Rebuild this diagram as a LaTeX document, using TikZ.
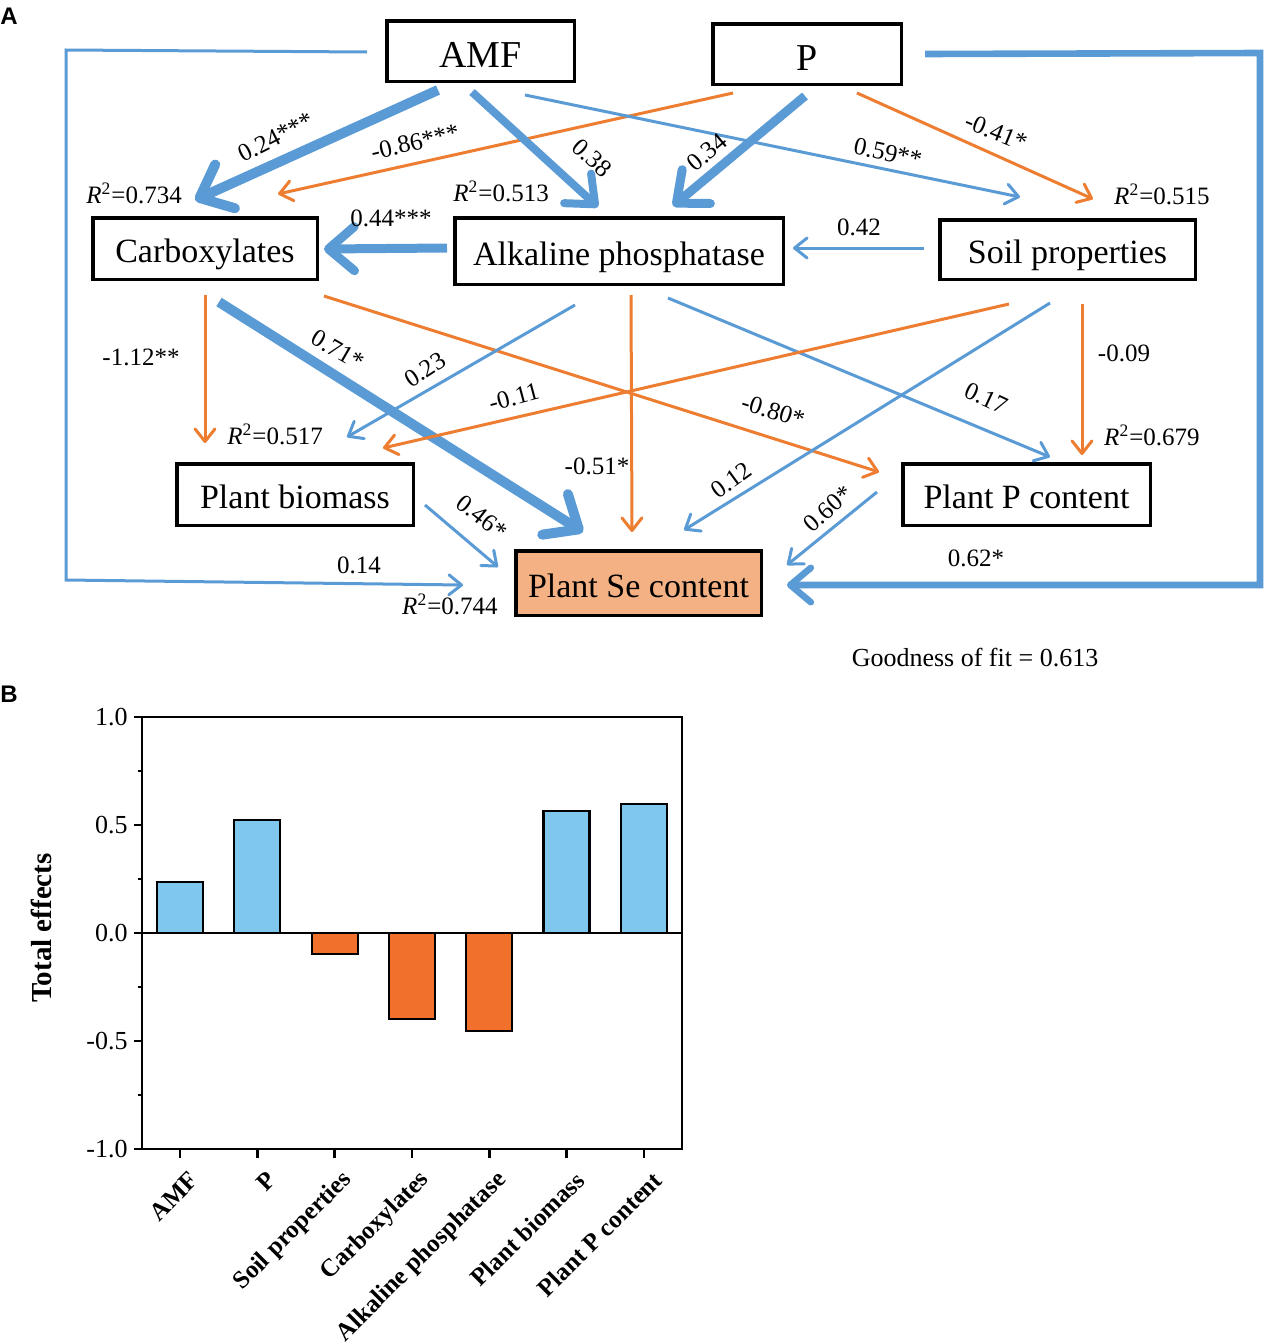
\documentclass[tikz,border=0pt]{standalone}
\usepackage{fontspec}
\setmainfont{Liberation Serif}
\setsansfont{Liberation Sans}
\usepackage{tikz}
\usetikzlibrary{arrows.meta,calc}
\definecolor{semblue}{RGB}{91,155,213}
\definecolor{semorange}{RGB}{237,125,49}
\definecolor{sesalmon}{RGB}{244,177,131}
\definecolor{barblue}{RGB}{127,199,236}
\definecolor{barorange}{RGB}{240,112,44}
\tikzset{
  boxnode/.style = {align=center, inner sep=0pt, text centered, draw=black,
    line width=1.75pt, text height=14pt, text depth=0pt,
    font=\fontsize{17pt}{20pt}\selectfont},
  sem_n/.style = {boxnode, fill=white},% variable observee
  sem_top/.style = {boxnode, fill=white, text height=16pt,
    font=\fontsize{19pt}{22pt}\selectfont},% traitements
  sem_se/.style = {boxnode, fill=sesalmon},% variable reponse
  w_lab/.style = {inner sep=0pt, font=\fontsize{12.5pt}{14pt}\selectfont},% coefficient
  r_lab/.style = {inner sep=0pt, font=\fontsize{12.5pt}{14pt}\selectfont},% R2
  arr_b/.style = {draw=semblue, -{Straight Barb[length=3pt 2.2,width=4pt 4,round]}},
  arr_o/.style = {draw=semorange, -{Straight Barb[length=3pt 2.2,width=4pt 4,round]}},
  tick_lab/.style = {inner sep=0pt, font=\fontsize{13pt}{15pt}\selectfont},
  x_lab/.style = {inner sep=0pt, font=\fontsize{12.5pt}{14pt}\selectfont\bfseries}
}
\newcommand{\rsq}[1]{\textit{R}\textsuperscript{2}=#1}

\begin{document}
\begin{tikzpicture}[x=0.5pt,y=-0.5pt]
  \useasboundingbox (0,0) rectangle (1265,1344);
  \node[anchor=base west, inner sep=0pt, font=\fontsize{12pt}{14pt}\sffamily\bfseries] (pa) at (0,24) {A};
  \node[anchor=base west, inner sep=0pt, font=\fontsize{12pt}{14pt}\sffamily\bfseries] (pb) at (0,702) {B};

  % boites
  \node[sem_top, minimum width=93.75pt, minimum height=30.25pt] (amf) at (480.5,51) {AMF};
  \node[sem_top, minimum width=94.25pt, minimum height=30.25pt] (pp) at (807,54) {P};
  \node[sem_n, minimum width=112.25pt, minimum height=30.75pt,
    label={[r_lab, anchor=south west, xshift=-2.5pt, yshift=6pt]north west:\rsq{0.734}}] (carb) at (205,248.5) {Carboxylates};
  \node[sem_n, minimum width=164.25pt, minimum height=33.25pt,
    label={[r_lab, anchor=south west, yshift=7pt]north west:\rsq{0.513}}] (alk) at (619,251) {Alkaline phosphatase};
  \node[sem_n, minimum width=127.75pt, minimum height=29.75pt,
    label={[r_lab, anchor=south east, xshift=6.5pt, yshift=6.5pt]north east:\rsq{0.515}}] (soil) at (1067.5,249.5) {Soil properties};
  \node[sem_n, minimum width=118.25pt, minimum height=30.75pt,
    label={[r_lab, anchor=south west, xshift=26pt, yshift=8.5pt]north west:\rsq{0.517}}] (bio) at (295,494.5) {Plant biomass};
  \node[sem_n, minimum width=123.75pt, minimum height=30.75pt,
    label={[r_lab, anchor=south east, xshift=24pt, yshift=8pt]north east:\rsq{0.679}}] (ppc) at (1026.5,494.5) {Plant P content};
  \node[sem_se, minimum width=122.75pt, minimum height=32.25pt,
    label={[r_lab, anchor=south east, xshift=-8pt, yshift=1pt]south west:\rsq{0.744}}] (se) at (638.5,583) {Plant Se content};

  % chemins
  \draw[arr_b, line width=5pt] ($(amf.south)+(-42.5,7)$) -- ($(carb.north)+(-10,-16)$);
  \draw[arr_o, line width=1.5pt] ($(pp.south)+(-74,7)$) -- ($(carb.north)+(73,-22)$);
  \draw[arr_b, line width=4pt] ($(amf.south)+(-8.5,9)$) -- ($(alk.north)+(-21,-9)$);
  \draw[arr_b, line width=1.5pt] ($(amf.south)+(44.5,12)$) -- ($(soil.north)+(-47.5,-21)$);
  \draw[arr_b, line width=4.5pt] ($(pp.south)+(-2,10)$) -- ($(alk.north)+(54,-10)$);
  \draw[arr_o, line width=1.5pt] ($(pp.south)+(50,7)$) -- ($(soil.north)+(25.5,-19)$);
  \draw[arr_b, line width=1.5pt] ($(amf.west)+(-18,1)$) -- ++(-301,-2) -- ++(0,530) -- ($(se.west)+(-51,2)$);
  \draw[arr_b, line width=3.3pt] ($(pp.east)+(22,0)$) -- ++(335,-1) -- ++(0,532) -- ($(se.east)+(24,2)$);
  \draw[arr_b, line width=4.5pt] ($(alk.west)+(-6,-3)$) -- ($(carb.east)+(5,0.5)$);
  \draw[arr_b, line width=1.5pt] ($(soil.west)+(-14,-1.5)$) -- ($(alk.east)+(8,-3)$);
  \draw[arr_o, line width=1.5pt] ($(carb.south)+(0,14)$) -- ($(bio.north)+(-90,-19)$);
  \draw[arr_b, line width=5pt] ($(carb.south)+(14,21)$) -- ($(se.north)+(-55.5,-17)$);
  \draw[arr_o, line width=1.5pt] ($(carb.south)+(119,15)$) -- ($(ppc.west)+(-22,-22.5)$);
  \draw[arr_b, line width=1.5pt] ($(alk.south)+(-44,19)$) -- ($(bio.north)+(52,-25)$);
  \draw[arr_o, line width=1.5pt] ($(alk.south)+(12,9)$) -- ($(se.north)+(-6.5,-17)$);
  \draw[arr_b, line width=1.5pt] ($(alk.south)+(49,12)$) -- ($(ppc.north)+(23.5,-5)$);
  \draw[arr_o, line width=1.5pt] ($(soil.south)+(-58.5,23)$) -- ($(bio.north)+(88,-14)$);
  \draw[arr_b, line width=1.5pt] ($(soil.south)+(-17.5,22)$) -- ($(se.north)+(45.5,-19)$);
  \draw[arr_o, line width=1.5pt] ($(soil.south)+(14.5,23)$) -- ($(ppc.north)+(55.5,-7)$);
  \draw[arr_b, line width=1.5pt] ($(bio.east)+(10,10.5)$) -- ($(se.west)+(-16,-16)$);
  \draw[arr_b, line width=1.5pt] ($(ppc.west)+(-24,-2.5)$) -- ($(se.east)+(24,-18)$);

  % coefficients
  \node[w_lab, rotate=27] (w1) at (276,137) {0.24***};
  \node[w_lab, rotate=13] (w2) at (415,142) {-0.86***};
  \node[w_lab, rotate=-42] (w3) at (592,158) {0.38};
  \node[w_lab, rotate=-12] (w4) at (888,153) {0.59**};
  \node[w_lab, rotate=40] (w5) at (707,152) {0.34};
  \node[w_lab, rotate=-22] (w6) at (996,132) {-0.41*};
  \node[w_lab] (w7) at (359,565) {0.14};
  \node[w_lab] (w8) at (976,558) {0.62*};
  \node[w_lab] (w9) at (391,218) {0.44***};
  \node[w_lab] (w10) at (859,227) {0.42};
  \node[w_lab] (w11) at (141,357) {-1.12**};
  \node[w_lab, rotate=-30] (w12) at (338,350) {0.71*};
  \node[w_lab, rotate=-17] (w13) at (773,411) {-0.80*};
  \node[w_lab, rotate=33] (w14) at (425,370) {0.23};
  \node[w_lab] (w15) at (597,466) {-0.51*};
  \node[w_lab, rotate=-25] (w16) at (986,398) {0.17};
  \node[w_lab, rotate=15] (w17) at (514,397) {-0.11};
  \node[w_lab, rotate=36] (w18) at (731,480) {0.12};
  \node[w_lab] (w19) at (1124,353) {-0.09};
  \node[w_lab, rotate=-38] (w20) at (482,517) {0.46*};
  \node[w_lab, rotate=42] (w21) at (828,509) {0.60*};
  \node[inner sep=0pt, font=\fontsize{13pt}{15pt}\selectfont] (fit) at (975,658) {Goodness of fit = 0.613};

  % effets totaux
  \foreach \v/\c [count=\i from 0] in {0.236/barblue,0.523/barblue,-0.097/barorange,-0.398/barorange,-0.454/barorange,0.565/barblue,0.597/barblue}{
    \draw[fill=\c, line width=1.1pt] ({157+77.3*\i},933) rectangle ({203+77.3*\i},{933-216*\v});
    \draw[line width=1.3pt] ({180+77.3*\i},1149) -- ++(0,9);
  }
  \draw[line width=1.3pt] (142,933) -- (682,933);
  \draw[line width=1.3pt] (142,717) rectangle (682,1149);
  \foreach \t/\y in {1.0/717,0.5/825,0.0/933,-0.5/1041,-1.0/1149}{
    \draw[line width=1.3pt] (142,\y) -- ++(-8,0);
    \node[tick_lab, anchor=east] (yt\y) at (128,\y) {\t};
  }
  \foreach \y in {771,879,987,1095}
    \draw[line width=1.3pt] (142,\y) -- ++(-4,0);
  \foreach \n [count=\i from 0] in {AMF,P,Soil properties,Carboxylates,Alkaline phosphatase,Plant biomass,Plant P content}
    \node[x_lab, rotate=45, anchor=east] (xl\i) at ({194+77.3*\i},1176) {\n};
  \node[inner sep=0pt, rotate=90, font=\fontsize{14.5pt}{16pt}\selectfont\bfseries] (ylab) at (41,928) {Total effects};
\end{tikzpicture}
\end{document}
